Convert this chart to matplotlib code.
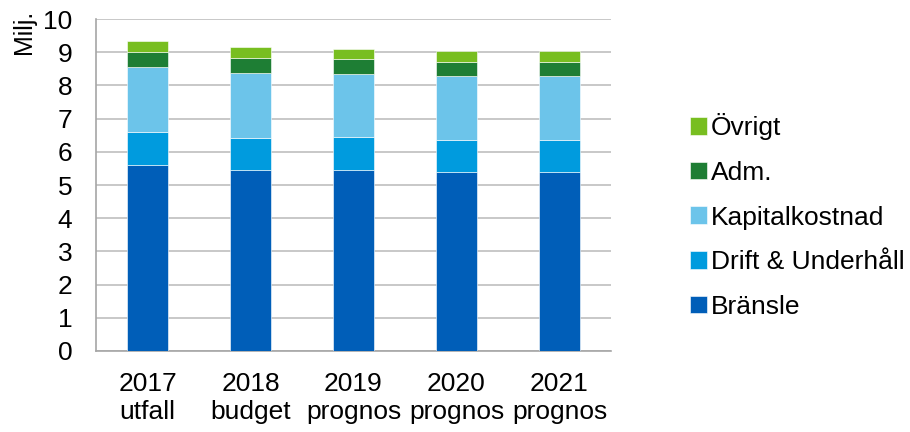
import matplotlib
matplotlib.use("Agg")
import matplotlib.pyplot as plt
import numpy as np

plt.rcParams['font.family'] = ['Liberation Sans', 'DejaVu Sans']

categories = ["2017\nutfall", "2018\nbudget", "2019\nprognos", "2020\nprognos", "2021\nprognos"]
series_names = ["Bränsle", "Drift & Underhåll", "Kapitalkostnad", "Adm.", "Övrigt"]
bransle = [5.59, 5.44, 5.44, 5.38, 5.38]
drift = [1.01, 0.99, 1.00, 0.99, 0.99]
kapital = [1.96, 1.95, 1.91, 1.90, 1.90]
adm = [0.44, 0.46, 0.44, 0.43, 0.43]
ovrigt = [0.34, 0.31, 0.32, 0.33, 0.33]
colors = ["#005EB8", "#009BDE", "#6CC4EA", "#1E7E34", "#78BE20"]
yticks = list(range(0, 11))

fig = plt.figure(figsize=(9.10, 4.32), dpi=100)
ax = fig.add_axes([0.1055, 0.1875, 0.5659, 0.7685])

x = np.arange(len(categories))
bottom = np.zeros(len(categories))
handles = []
for name, vals, c in zip(series_names, [bransle, drift, kapital, adm, ovrigt], colors):
    h = ax.bar(x, vals, width=0.40, bottom=bottom, color=c, edgecolor='white',
               linewidth=0.4, label=name, zorder=3)
    handles.append(h)
    bottom += np.array(vals)

ax.set_xlim(-0.5, len(categories) - 0.5)
ax.set_ylim(0, 10)
ax.set_yticks(yticks)
ax.set_xticks(x)
ax.set_xticklabels(categories, fontsize=19, linespacing=1.2)
ax.tick_params(axis='y', labelsize=19, length=0, pad=17)
ax.tick_params(axis='x', length=0, pad=15)
ax.grid(axis='y', color='#BFBFBF', linewidth=1.2, zorder=0)
ax.set_axisbelow(True)
for s in ['top', 'right']:
    ax.spines[s].set_visible(False)
for s in ['left', 'bottom']:
    ax.spines[s].set_color('#A6A6A6')
    ax.spines[s].set_linewidth(1.2)

fig.text(0.026, 0.978, "Milj.", rotation=90, fontsize=18, va='top', ha='center')

leg = fig.legend(handles[::-1], series_names[::-1], loc='center left',
                 bbox_to_anchor=(0.758, 0.5), frameon=False, fontsize=19,
                 handlelength=0.65, handleheight=0.65, handletextpad=0.15,
                 labelspacing=0.78, borderaxespad=0, borderpad=0)

fig.savefig("out.png", dpi=100)
